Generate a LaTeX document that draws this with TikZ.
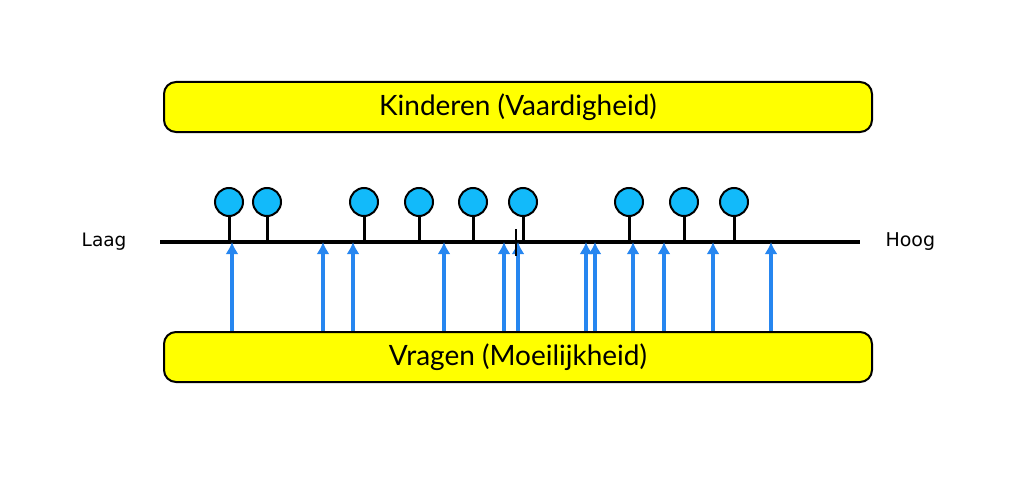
\documentclass[tikz,border=0pt]{standalone}
\usepackage{fontspec}
\setmainfont{Lato}
\newfontfamily\axisfont{DejaVu Sans}
\usepackage{tikz}
\usetikzlibrary{arrows.meta,positioning}
\usepackage{xcolor}
\definecolor{boxyellow}{RGB}{255,255,0}
\definecolor{ballblue}{RGB}{18,186,250}
\definecolor{arrowblue}{RGB}{38,134,240}

\begin{document}
\begin{tikzpicture}[x=1pt,y=-1pt]
	\useasboundingbox (0,0) rectangle (1024,500);
	\begin{scope}[every node/.style={rectangle,draw,line width=2pt,rounded corners=12pt,fill=boxyellow,minimum height=50pt,minimum width=708pt,font=\fontsize{28}{32}\selectfont}]
		\node (kind) at (518,107) {Kinderen (Vaardigheid)};
		\node (vrag) at (518,357) {Vragen (Moeilijkheid)};
	\end{scope}

	% schaal
	\coordinate (lo) at (160,242);
	\coordinate (hi) at (860,242);
	\draw[line width=3.6pt] (lo) -- (hi);
	\node[left=30pt of lo,font=\axisfont\fontsize{18.5}{22}\selectfont] (laag) {Laag};
	\node[right=22pt of hi,font=\axisfont\fontsize{19}{22}\selectfont] (hoog) {Hoog};
	\coordinate (tick) at (516,242);

	% kinderen
	\begin{scope}[every node/.style={circle,draw,line width=2pt,fill=ballblue,minimum size=28pt,inner sep=0pt}]
		\node (k1) at (229,202) {};
		\node (k2) at (267,202) {};
		\node (k3) at (364,202) {};
		\node (k4) at (419,202) {};
		\node (k5) at (473,202) {};
		\node (k6) at (523,202) {};
		\node (k7) at (629,202) {};
		\node (k8) at (684,202) {};
		\node (k9) at (734,202) {};
	\end{scope}
	\begin{scope}[line width=3pt]
		\draw (k1) -- (k1|-lo);
		\draw (k2) -- (k2|-lo);
		\draw (k3) -- (k3|-lo);
		\draw (k4) -- (k4|-lo);
		\draw (k5) -- (k5|-lo);
		\draw (k6) -- (k6|-lo);
		\draw (k7) -- (k7|-lo);
		\draw (k8) -- (k8|-lo);
		\draw (k9) -- (k9|-lo);
	\end{scope}

	% vragen
	\coordinate (v1) at (232,242);
	\coordinate (v2) at (323,242);
	\coordinate (v3) at (353,242);
	\coordinate (v4) at (444,242);
	\coordinate (v5) at (504,242);
	\coordinate (v6) at (518,242);
	\coordinate (v7) at (586,242);
	\coordinate (v8) at (595,242);
	\coordinate (v9) at (633,242);
	\coordinate (v10) at (664,242);
	\coordinate (v11) at (713,242);
	\coordinate (v12) at (771,242);
	\begin{scope}[arrowblue,line width=3.4pt]
	\draw[-{Latex[length=12pt,width=13pt]}] (v1|-vrag.north) -- (v1);
	\draw[-{Latex[length=12pt,width=13pt]}] (v2|-vrag.north) -- (v2);
	\draw[-{Latex[length=12pt,width=13pt]}] (v3|-vrag.north) -- (v3);
	\draw[-{Latex[length=12pt,width=13pt]}] (v4|-vrag.north) -- (v4);
	\draw[-{Latex[length=12pt,width=13pt]}] (v5|-vrag.north) -- (v5);
	\draw[-{Latex[length=12pt,width=13pt]}] (v6|-vrag.north) -- (v6);
	\draw[-{Latex[length=12pt,width=13pt]}] (v7|-vrag.north) -- (v7);
	\draw[-{Latex[length=12pt,width=13pt]}] (v8|-vrag.north) -- (v8);
	\draw[-{Latex[length=12pt,width=13pt]}] (v9|-vrag.north) -- (v9);
	\draw[-{Latex[length=12pt,width=13pt]}] (v10|-vrag.north) -- (v10);
	\draw[-{Latex[length=12pt,width=13pt]}] (v11|-vrag.north) -- (v11);
	\draw[-{Latex[length=12pt,width=13pt]}] (v12|-vrag.north) -- (v12);
	\end{scope}
	\draw[line width=2.6pt] (tick) ++(0,-13) -- ++(0,27);
\end{tikzpicture}
\end{document}
